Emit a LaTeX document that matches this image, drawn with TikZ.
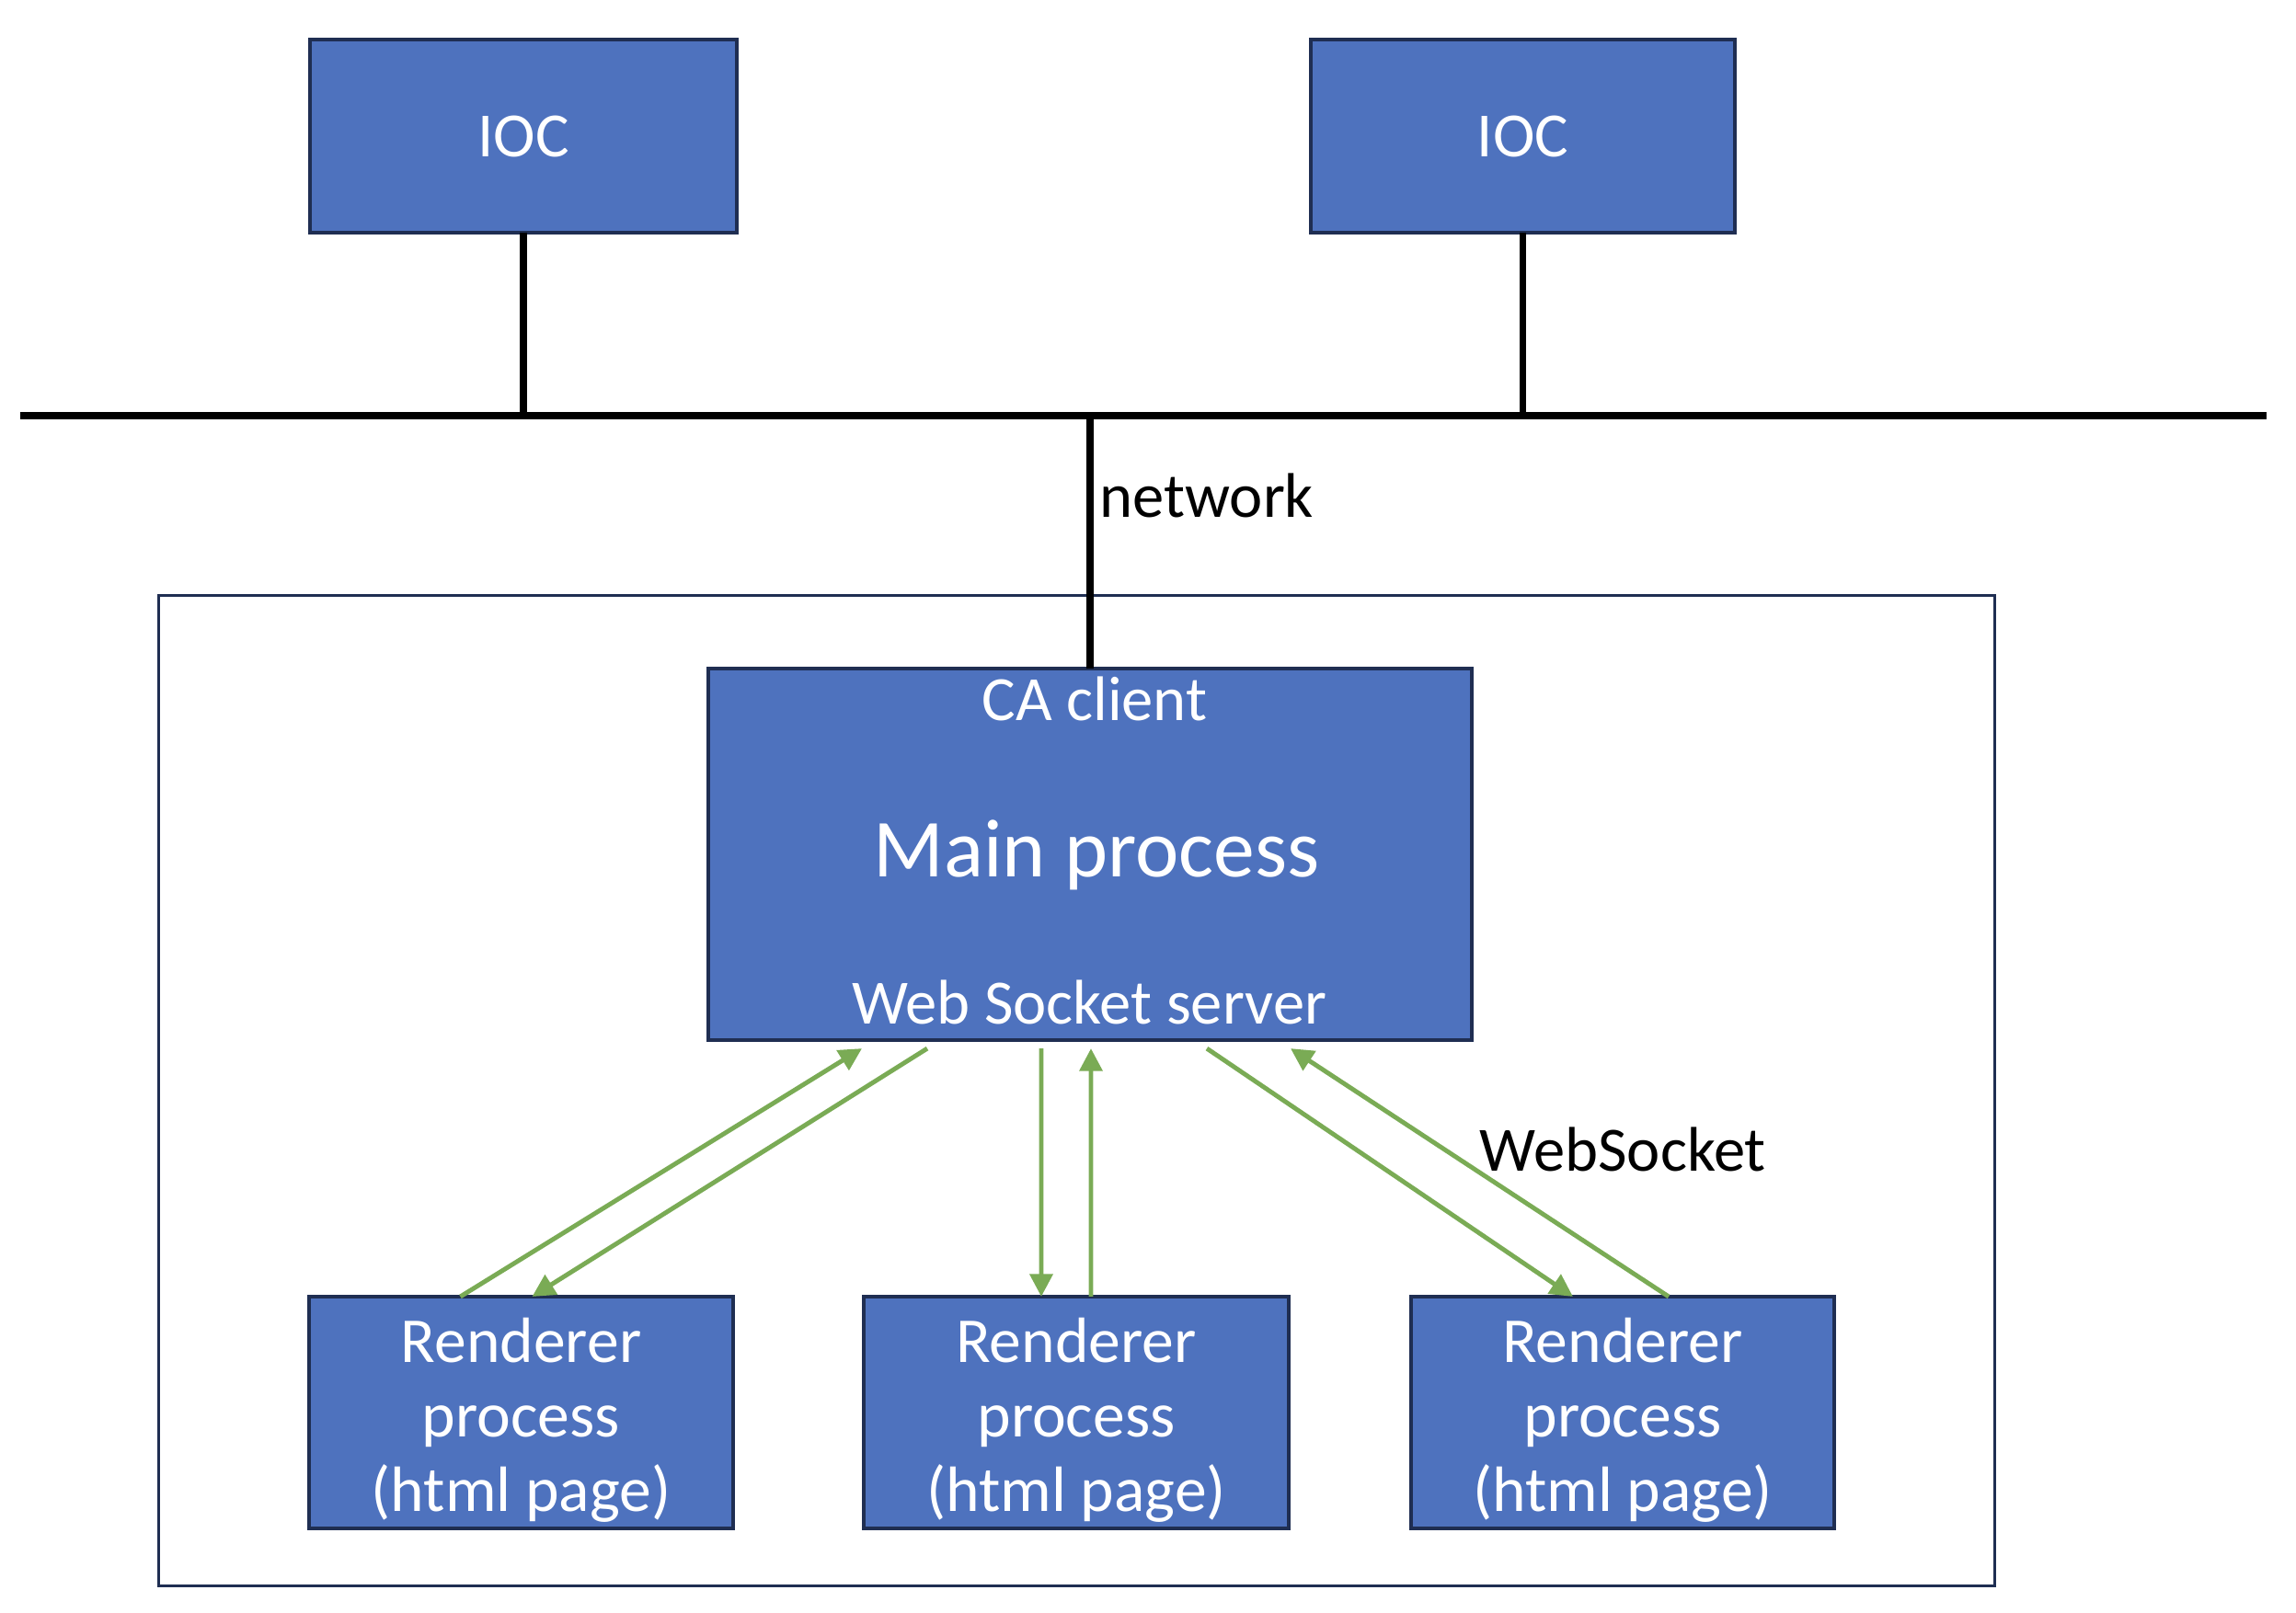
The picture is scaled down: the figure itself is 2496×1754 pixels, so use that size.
\documentclass[tikz,border=0pt]{standalone}
\usepackage{fontspec}
\setmainfont{Carlito}
\usetikzlibrary{arrows.meta}
\definecolor{boxfill}{RGB}{78,114,190}
\definecolor{boxline}{RGB}{31,46,82}
\definecolor{wsgreen}{RGB}{122,171,85}
\begin{document}
\begin{tikzpicture}[x=0.01cm,y=-0.01cm,
  blockbox/.style={draw=boxline,fill=boxfill,line width=1pt,text=white,inner sep=0pt,outer sep=0pt,align=center,font=\fontsize{19.5}{22.8}\selectfont},
  frame/.style={draw=boxline,line width=0.9pt,inner sep=0pt,outer sep=0pt},
  intext/.style={text=white,inner sep=0pt,anchor=base,font=\fontsize{19.5}{22.8}\selectfont},
  rtext/.style={text=white,inner sep=0pt,align=center,font=\fontsize{19.8}{23}\selectfont},
  netline/.style={line width=2.1pt,black},
  wsarrow/.style={draw=wsgreen,line width=1.4pt,-{Triangle[length=7pt,width=7pt]}},
  lbl/.style={font=\fontsize{19.5}{22.8}\selectfont,inner sep=0pt,anchor=base west}]
\useasboundingbox (0,0) rectangle (2496,1754);

% outer frame
\node[frame,minimum width=19.95cm,minimum height=10.76cm] (outer) at (1170.5,1186) {};

% IOCs
\node[blockbox,minimum width=4.64cm,minimum height=2.10cm] (ioc1) at (569,148) {IOC};
\node[blockbox,minimum width=4.61cm,minimum height=2.10cm] (ioc2) at (1655.5,148) {IOC};

% network bus
\coordinate (netL) at (22,452);
\coordinate (netR) at (2464,452);
\draw[netline] (netL) -- (netR);

% main process
\node[blockbox,minimum width=8.30cm,minimum height=4.04cm] (main) at (1185,929) {};
\node[intext] (ca) at (1190,783) {CA client};
\node[intext,font=\fontsize{25.5}{30}\selectfont] (mp) at (1192,953) {Main process};
\node[intext] (wss) at (1184,1113) {Web Socket server};

% stems
\draw[netline] (ioc1.south) -- (ioc1.south |- netL);
\draw[netline] (ioc2.south) -- (ioc2.south |- netL);
\draw[netline] (main.north |- netL) -- (main.north);

\node[lbl] (netlbl) at (1195,562) {network};

% renderers
\node[blockbox,minimum width=4.61cm,minimum height=2.52cm] (r1) at (566.5,1536) {};
\node[blockbox,minimum width=4.62cm,minimum height=2.52cm] (r2) at (1170,1536) {};
\node[blockbox,minimum width=4.60cm,minimum height=2.52cm] (r3) at (1764,1536) {};
\node[rtext] (r1t) at ([yshift=-0.08cm]r1.center) {Renderer\\process\\(html page)};
\node[rtext] (r2t) at ([yshift=-0.08cm]r2.center) {Renderer\\process\\(html page)};
\node[rtext] (r3t) at ([yshift=-0.08cm]r3.center) {Renderer\\process\\(html page)};

% websocket arrows
\draw[wsarrow] ([xshift=-0.66cm]r1.north) -- ([shift={(-248,9)}]main.south);
\draw[wsarrow] ([shift={(-177,9)}]main.south) -- ([xshift=0.12cm]r1.north);
\draw[wsarrow] ([shift={(-53,9)}]main.south) -- ([xshift=-0.38cm]r2.north);
\draw[wsarrow] ([xshift=0.16cm]r2.north) -- ([shift={(1,9)}]main.south);
\draw[wsarrow] ([shift={(127,9)}]main.south) -- ([xshift=-0.54cm]r3.north);
\draw[wsarrow] ([xshift=0.50cm]r3.north) -- ([shift={(218,9)}]main.south);

\node[lbl] (wslbl) at (1608,1273) {WebSocket};
\end{tikzpicture}
\end{document}
